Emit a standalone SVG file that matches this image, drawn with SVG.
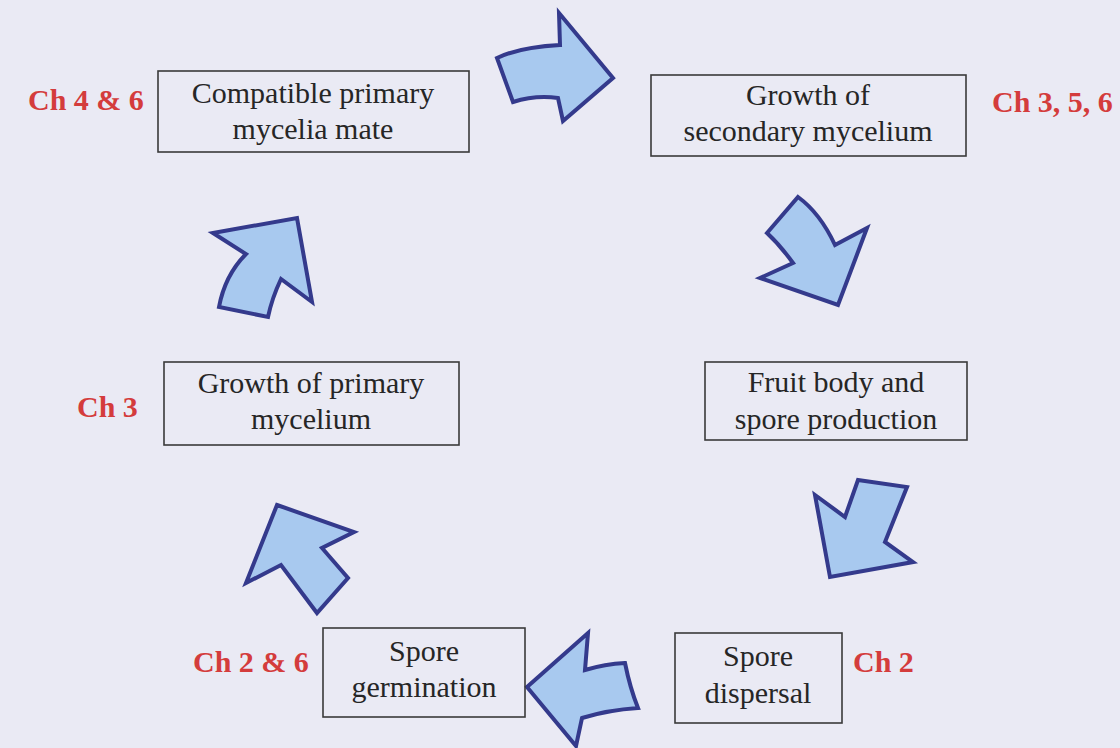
<svg xmlns="http://www.w3.org/2000/svg" width="1120" height="748" viewBox="0 0 1120 748">
  <style>
    .box { fill: none; stroke: #3a3a3a; stroke-width: 1.6; }
    .lbl { font-family: "Liberation Serif", "Times New Roman", serif; font-size: 30px; fill: #262626; text-anchor: middle; }
    .ch { font-family: "Liberation Serif", "Times New Roman", serif; font-size: 30px; font-weight: bold; fill: #d43c3c; }
    .arrow { fill: #a8c9ef; stroke: #343a8c; stroke-width: 4; stroke-linejoin: miter; stroke-miterlimit: 10; }
  </style>
  <rect x="0" y="0" width="1120" height="748" fill="#eaeaf4"/>

  <g id="connectors">
    <path class="arrow" d="M497,58 Q520,47 560,45 L559,13 L613,78 L563,121 L558,98 Q535,95 513,102 Z"/>
    <path class="arrow" d="M798,197 Q820,213 835,245 L867,228 L838,305 L760,278 L793,263 Q780,245 767,233 Z"/>
    <path class="arrow" d="M858,480 L907,487 L885,542 L913,562 L830,577 L815,495 L845,517 Z"/>
    <path class="arrow" d="M527,687 L588,633 L585,670 Q605,664 625,663 Q630,688 638,708 Q608,710 582,718 L576,746 Z"/>
    <path class="arrow" d="M277,505 L354,532 L322,548 L348,578 L317,613 L281,565 L246,583 Z"/>
    <path class="arrow" d="M213,233 L297,218 L312,302 L281,279 Q272,298 268,317 L219,307 Q225,275 246,254 Z"/>
  </g>

  <g id="node-mate">
    <rect class="box" x="158" y="71" width="311" height="81"/>
    <text class="lbl" x="313" y="103">Compatible primary</text>
    <text class="lbl" x="313" y="139">mycelia mate</text>
  </g>
  <g id="node-secondary">
    <rect class="box" x="651" y="75" width="315" height="81"/>
    <text class="lbl" x="808" y="105">Growth of</text>
    <text class="lbl" x="808" y="141">secondary mycelium</text>
  </g>
  <g id="node-fruit">
    <rect class="box" x="705" y="362" width="262" height="78"/>
    <text class="lbl" x="836" y="392">Fruit body and</text>
    <text class="lbl" x="836" y="429">spore production</text>
  </g>
  <g id="node-dispersal">
    <rect class="box" x="675" y="633" width="167" height="90"/>
    <text class="lbl" x="758" y="666">Spore</text>
    <text class="lbl" x="758" y="703">dispersal</text>
  </g>
  <g id="node-germination">
    <rect class="box" x="323" y="628" width="202" height="89"/>
    <text class="lbl" x="424" y="661">Spore</text>
    <text class="lbl" x="424" y="697">germination</text>
  </g>
  <g id="node-primary">
    <rect class="box" x="164" y="362" width="295" height="83"/>
    <text class="lbl" x="311" y="393">Growth of primary</text>
    <text class="lbl" x="311" y="429">mycelium</text>
  </g>

  <g id="chapter-labels">
    <text class="ch" x="28" y="110">Ch 4 &amp; 6</text>
    <text class="ch" x="992" y="112">Ch 3, 5, 6</text>
    <text class="ch" x="77" y="417">Ch 3</text>
    <text class="ch" x="193" y="672">Ch 2 &amp; 6</text>
    <text class="ch" x="853" y="672">Ch 2</text>
  </g>
</svg>
